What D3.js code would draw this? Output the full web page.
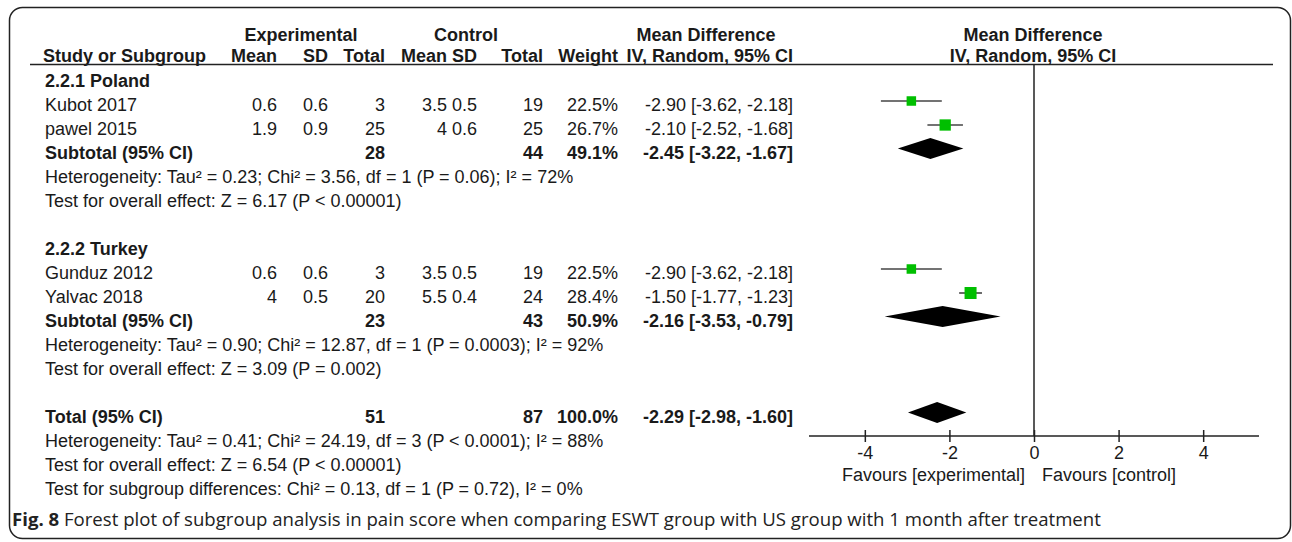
<!DOCTYPE html>
<html>
<head>
<meta charset="utf-8">
<script src="https://cdn.jsdelivr.net/npm/d3@7"></script>
<style>
	body { margin: 0; background: #fff; }
	svg { display: block; }
</style>
</head>
<body>
<script>
// study level data
var studyNames = ["Kubot 2017", "pawel 2015", "Gunduz 2012", "Yalvac 2018"];
var studyGroup = [0, 0, 1, 1];
var expMean = ["0.6", "1.9", "0.6", "4"];
var expSD = ["0.6", "0.9", "0.6", "0.5"];
var expTotal = [3, 25, 3, 20];
var ctrlMean = ["3.5", "4", "3.5", "5.5"];
var ctrlSD = ["0.5", "0.6", "0.5", "0.4"];
var ctrlTotal = [19, 25, 19, 24];
var weights = [22.5, 26.7, 22.5, 28.4];
var md = [-2.90, -2.10, -2.90, -1.50];
var mdLow = [-3.62, -2.52, -3.62, -1.77];
var mdHigh = [-2.18, -1.68, -2.18, -1.23];

// subgroup data
var groupNames = ["2.2.1 Poland", "2.2.2 Turkey"];
var groupExpTotal = [28, 23];
var groupCtrlTotal = [44, 43];
var groupWeight = [49.1, 50.9];
var groupMd = [-2.45, -2.16];
var groupLow = [-3.22, -3.53];
var groupHigh = [-1.67, -0.79];
var groupHet = [
	"Heterogeneity: Tau² = 0.23; Chi² = 3.56, df = 1 (P = 0.06); I² = 72%",
	"Heterogeneity: Tau² = 0.90; Chi² = 12.87, df = 1 (P = 0.0003); I² = 92%"
];
var groupEffect = [
	"Test for overall effect: Z = 6.17 (P < 0.00001)",
	"Test for overall effect: Z = 3.09 (P = 0.002)"
];

// overall
var totalExp = 51;
var totalCtrl = 87;
var totalWeight = 100.0;
var totalMd = -2.29;
var totalLow = -2.98;
var totalHigh = -1.60;
var totalNotes = [
	"Heterogeneity: Tau² = 0.41; Chi² = 24.19, df = 3 (P < 0.0001); I² = 88%",
	"Test for overall effect: Z = 6.54 (P < 0.00001)",
	"Test for subgroup differences: Chi² = 0.13, df = 1 (P = 0.72), I² = 0%"
];

var axisTicks = [-4, -2, 0, 2, 4];
var favourLabels = ["Favours [experimental]", "Favours [control]"];

var width = 1292;
var height = 542;
var font = "'Liberation Sans', Arial, sans-serif";
var fs = 18;
var ink = "#1a1a1a";

var svg = d3.select("body").append("svg")
	.attr("width", width)
	.attr("height", height);

svg.append("rect")
	.attr("x", 9.5).attr("y", 7.5)
	.attr("width", 1281).attr("height", 531)
	.attr("rx", 13)
	.attr("fill", "none")
	.attr("stroke", "#222")
	.attr("stroke-width", 1.5);

var x = d3.scaleLinear().domain([-5.32, 5.32]).range([809, 1259]);
var boxSize = d3.scaleLinear().domain([0, 28.4]).range([0, 12]);

var fmt = function(v) { return v.toFixed(2); };
var ciText = function(m, lo, hi) { return fmt(m) + " [" + fmt(lo) + ", " + fmt(hi) + "]"; };
var pct = function(v) { return v.toFixed(1) + "%"; };

// build the rows
var rows = [];
groupNames.forEach(function(g, gi) {
	rows.push({ type: "head", label: g });
	studyNames.forEach(function(s, i) {
		if (studyGroup[i] != gi) return;
		rows.push({ type: "study", label: s, cells: [expMean[i], expSD[i], expTotal[i], ctrlMean[i], ctrlSD[i], ctrlTotal[i], pct(weights[i]), ciText(md[i], mdLow[i], mdHigh[i])],
			m: md[i], lo: mdLow[i], hi: mdHigh[i], w: weights[i] });
	});
	rows.push({ type: "sub", label: "Subtotal (95% CI)", cells: ["", "", groupExpTotal[gi], "", "", groupCtrlTotal[gi], pct(groupWeight[gi]), ciText(groupMd[gi], groupLow[gi], groupHigh[gi])],
		m: groupMd[gi], lo: groupLow[gi], hi: groupHigh[gi] });
	rows.push({ type: "note", label: groupHet[gi] });
	rows.push({ type: "note", label: groupEffect[gi] });
	rows.push({ type: "blank" });
});
rows.push({ type: "sub", label: "Total (95% CI)", cells: ["", "", totalExp, "", "", totalCtrl, pct(totalWeight), ciText(totalMd, totalLow, totalHigh)],
	m: totalMd, lo: totalLow, hi: totalHigh });
totalNotes.forEach(function(n) { rows.push({ type: "note", label: n }); });

var rowY = function(i) { return 80 + 24 * i; };
var colRight = [277, 328, 385, 447, 477, 543, 618, 793];

var txt = function(xp, yp, s, anchor, bold) {
	return svg.append("text")
		.attr("x", xp).attr("y", yp)
		.attr("text-anchor", anchor || "start")
		.attr("font-family", font)
		.attr("font-size", fs)
		.attr("font-weight", bold ? "bold" : "normal")
		.attr("fill", ink)
		.text(s);
};

// headers
txt(301, 41, "Experimental", "middle", true);
txt(466, 41, "Control", "middle", true);
txt(706, 41, "Mean Difference", "middle", true);
txt(1033, 41, "Mean Difference", "middle", true);
txt(43, 61.5, "Study or Subgroup", "start", true);
["Mean", "SD", "Total", "Mean", "SD", "Total", "Weight", "IV, Random, 95% CI"].forEach(function(h, i) {
	txt(colRight[i], 61.5, h, "end", true);
});
txt(1033, 61.5, "IV, Random, 95% CI", "middle", true);

svg.append("line")
	.attr("x1", 30).attr("x2", 1273)
	.attr("y1", 64.5).attr("y2", 64.5)
	.attr("stroke", "#222").attr("stroke-width", 1.5);

// zero line
svg.append("line")
	.attr("x1", x(0)).attr("x2", x(0))
	.attr("y1", 64.5).attr("y2", 436)
	.attr("stroke", "#222").attr("stroke-width", 1.5);

rows.forEach(function(r, i) {
	var cy = rowY(i);
	if (r.type == "blank") return;
	var bold = r.type == "head" || r.type == "sub";
	txt(45, cy + 6.5, r.label, "start", bold);
	if (r.cells) {
		r.cells.forEach(function(c, j) {
			if (c === "") return;
			txt(colRight[j], cy + 6.5, c, "end", bold);
		});
	}
	if (r.type == "study") {
		svg.append("line")
			.attr("x1", x(r.lo)).attr("x2", x(r.hi))
			.attr("y1", cy - 3).attr("y2", cy - 3)
			.attr("stroke", "#444").attr("stroke-width", 1.6);
		var s = boxSize(r.w);
		svg.append("rect")
			.attr("x", x(r.m) - s / 2).attr("y", cy - 3 - s / 2)
			.attr("width", s).attr("height", s)
			.attr("fill", "#00bf00");
	}
	if (r.type == "sub") {
		var dy = cy - 3.5;
		svg.append("path")
			.attr("d", "M" + x(r.lo) + "," + dy + "L" + x(r.m) + "," + (dy - 10.5) + "L" + x(r.hi) + "," + dy + "L" + x(r.m) + "," + (dy + 10.5) + "Z")
			.attr("fill", "#000");
	}
});

// axis
var axis = d3.axisBottom(x)
	.tickValues(axisTicks)
	.tickSize(6)
	.tickPadding(4)
	.tickFormat(function(d) { return String(d); });
var ag = svg.append("g")
	.attr("transform", "translate(0,436)")
	.call(axis);
ag.select(".domain")
	.attr("d", "M" + x.range()[0] + ",0H" + x.range()[1])
	.attr("stroke", "#222").attr("stroke-width", 1.5);
ag.selectAll(".tick line").attr("y1", -6).attr("stroke", "#222").attr("stroke-width", 1.5);
ag.selectAll(".tick text")
	.attr("font-family", font).attr("font-size", fs)
	.attr("fill", ink);

txt(1025, 481, favourLabels[0], "end", false);
txt(1042, 481, favourLabels[1], "start", false);

// caption
var cap = svg.append("text")
	.attr("x", 12).attr("y", 526)
	.attr("font-family", "'Open Sans', 'Noto Sans', sans-serif")
	.attr("font-size", 18.6)
	.attr("fill", "#222");
cap.append("tspan").attr("font-weight", "bold").text("Fig. 8");
cap.append("tspan").text(" Forest plot of subgroup analysis in pain score when comparing ESWT group with US group with 1 month after treatment");
</script>
</body>
</html>
